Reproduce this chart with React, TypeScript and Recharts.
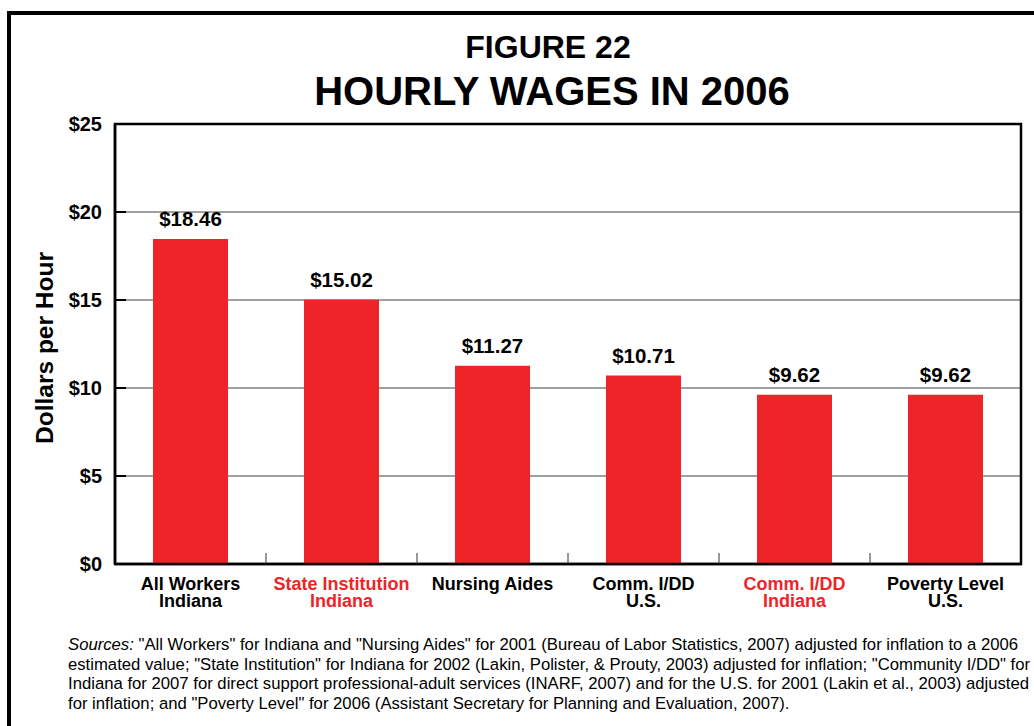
import React from "react";
import {
  BarChart,
  Bar,
  XAxis,
  YAxis,
  CartesianGrid,
  LabelList,
  ReferenceArea,
} from "recharts";

const LINE1 = ["All Workers", "State Institution", "Nursing Aides", "Comm. I/DD", "Comm. I/DD", "Poverty Level"];
const LINE2 = ["Indiana", "Indiana", "", "U.S.", "Indiana", "U.S."];
const HIGHLIGHT = [false, true, false, false, true, false];
const WAGES = [18.46, 15.02, 11.27, 10.71, 9.62, 9.62];
const Y_TICKS = [0, 5, 10, 15, 20, 25];

const SOURCES = [
  "\"All Workers\" for Indiana and \"Nursing Aides\" for 2001 (Bureau of Labor Statistics, 2007) adjusted for inflation to a 2006",
  "estimated value; \"State Institution\" for Indiana for 2002 (Lakin, Polister, & Prouty, 2003) adjusted for inflation; \"Community I/DD\" for",
  "Indiana for 2007 for direct support professional-adult services (INARF, 2007) and for the U.S. for 2001 (Lakin et al., 2003) adjusted",
  "for inflation; and \"Poverty Level\" for 2006 (Assistant Secretary for Planning and Evaluation, 2007).",
];

const W = 1034;
const H = 726;
const FONT = "Arial, 'Liberation Sans', Helvetica, sans-serif";
const RED = "#ee2428";
const LEFT = 115;
const RIGHT = 13;
const BAND = (W - LEFT - RIGHT) / LINE1.length;

const data = LINE1.map((l1, i) => ({ name: `${l1}\n${LINE2[i]}`, value: WAGES[i] }));

function YTick({ x, y, payload }: any) {
  return (
    <g>
      {payload.value > 0 && payload.value < 25 && (
        <line x1={x + 13} x2={x + 24} y1={y} y2={y} stroke="#000" strokeWidth={2} />
      )}
      <text x={x} y={y} dy={7} textAnchor="end" fontFamily={FONT} fontWeight="bold" fontSize={20} fill="#000">
        ${payload.value}
      </text>
    </g>
  );
}

function XTick({ x, y, payload, index }: any) {
  const [a, b] = String(payload.value).split("\n");
  const color = HIGHLIGHT[index] ? RED : "#000";
  return (
    <g>
      {index < LINE1.length - 1 && (
        <line x1={x + BAND / 2} x2={x + BAND / 2} y1={y} y2={y - 11} stroke="#333" strokeWidth={1} />
      )}
      <text x={x} y={y + 26} textAnchor="middle" fontFamily={FONT} fontWeight="bold" fontSize={18} fill={color}>
        {a}
      </text>
      {b && (
        <text x={x} y={y + 43} textAnchor="middle" fontFamily={FONT} fontWeight="bold" fontSize={18} fill={color}>
          {b}
        </text>
      )}
    </g>
  );
}

function YLabel({ viewBox }: any) {
  const cx = viewBox.x + 44;
  const cy = viewBox.y + viewBox.height / 2 + 4;
  return (
    <text
      x={cx}
      y={cy}
      transform={`rotate(-90 ${cx} ${cy})`}
      textAnchor="middle"
      dominantBaseline="central"
      fontFamily={FONT}
      fontWeight="bold"
      fontSize={24.5}
      fill="#000"
    >
      Dollars per Hour
    </text>
  );
}

export default function App() {
  return (
    <div style={{ position: "absolute", left: 0, top: 0, width: W, height: H, overflow: "hidden", background: "#fff" }}>
      <div
        style={{
          position: "absolute",
          left: 7,
          top: 11,
          width: 1200,
          height: 1000,
          border: "4px solid #000",
          boxSizing: "border-box",
        }}
      />
      <div style={{ position: "absolute", left: 0, top: 0 }}>
        <BarChart width={W} height={H} data={data} margin={{ top: 124, right: RIGHT, left: 0, bottom: 0 }}>
          <CartesianGrid vertical={false} stroke="#808080" strokeWidth={1.5} />
          <XAxis
            dataKey="name"
            height={H - 564}
            interval={0}
            tickSize={0}
            tickMargin={0}
            axisLine={{ stroke: "#000", strokeWidth: 2.5 }}
            tickLine={false}
            tick={<XTick />}
          />
          <YAxis
            width={LEFT}
            domain={[0, 25]}
            ticks={Y_TICKS}
            interval={0}
            tickSize={0}
            tickMargin={13}
            tickLine={false}
            axisLine={{ stroke: "#000", strokeWidth: 2.5 }}
            tick={<YTick />}
            label={{ content: <YLabel /> }}
          />
          <ReferenceArea y1={0} y2={25} fill="none" fillOpacity={0} stroke="#000" strokeWidth={2.5} />
          <Bar dataKey="value" fill={RED} barSize={75} isAnimationActive={false}>
            <LabelList
              dataKey="value"
              position="top"
              offset={13}
              formatter={(v: any) => `$${Number(v).toFixed(2)}`}
              fill="#000"
              fontFamily={FONT}
              fontWeight="bold"
              fontSize={20.5}
            />
          </Bar>
        </BarChart>
      </div>
      <svg width={W} height={H} style={{ position: "absolute", left: 0, top: 0, pointerEvents: "none" }}>
        <text x={548} y={58} textAnchor="middle" fontFamily={FONT} fontWeight="bold" fontSize={32} fill="#000">
          FIGURE 22
        </text>
        <text x={552} y={105} textAnchor="middle" fontFamily={FONT} fontWeight="bold" fontSize={40} fill="#000">
          HOURLY WAGES IN 2006
        </text>
        {SOURCES.map((line, i) => (
          <text key={i} x={68} y={650 + i * 19.5} fontFamily={FONT} fontSize={16.7} fill="#000">
            {i === 0 && <tspan fontStyle="italic">Sources: </tspan>}
            {line}
          </text>
        ))}
      </svg>
    </div>
  );
}
